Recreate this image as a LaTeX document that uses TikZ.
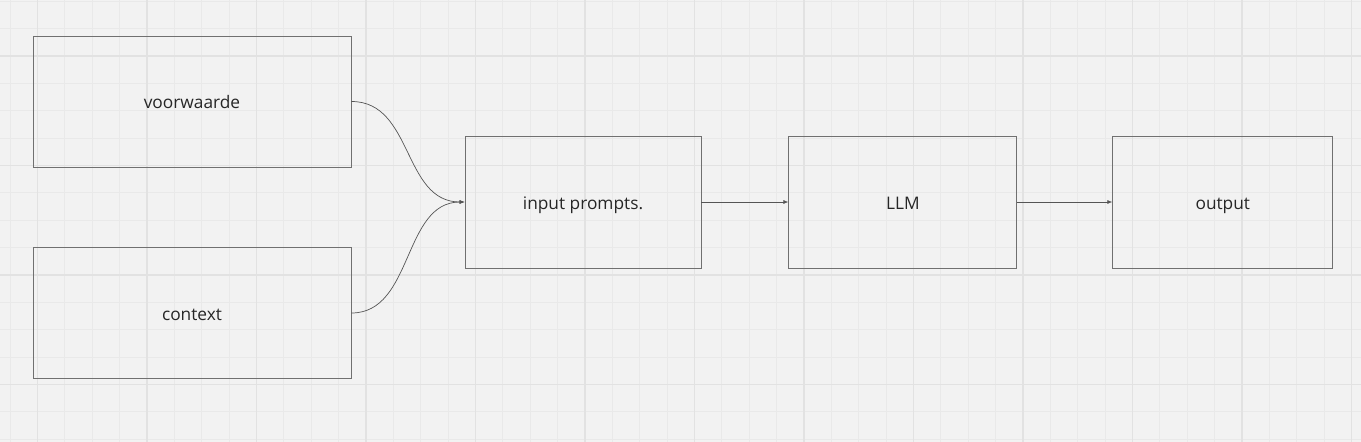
\documentclass[tikz,border=0pt]{standalone}
\usepackage{fontspec}
\setmainfont{Open Sans}
\usetikzlibrary{arrows.meta,positioning}
\definecolor{canvas}{HTML}{F2F2F2}
\definecolor{gridminor}{HTML}{E9E9E9}
\definecolor{gridmajor}{HTML}{E2E2E2}
\definecolor{boxline}{HTML}{707070}
\definecolor{arrline}{HTML}{555555}

\begin{document}
\begin{tikzpicture}[x=1pt, y=-1pt, box/.style={draw=boxline, line width=0.9pt, align=center, minimum height=132pt, inner sep=0pt, text height=16pt, text depth=2pt, font=\fontsize{17.3}{20}\selectfont, text=black!85}, arr/.style={-{Latex[length=5pt,width=4pt]}, draw=arrline, line width=0.7pt}]
\useasboundingbox (0,0) rectangle (1361,442);
\fill[canvas] (0,0) rectangle (1361,442);
% grid
\foreach \i in {0,...,49} \draw[gridminor, line width=0.9pt] (10.1+27.375*\i,0) -- (10.1+27.375*\i,442);
\foreach \i in {0,...,16} \draw[gridminor, line width=0.9pt] (0,1.25+27.375*\i) -- (1361,1.25+27.375*\i);
\foreach \i in {0,...,12} \draw[gridmajor, line width=1.5pt] (37.5+109.5*\i,0) -- (37.5+109.5*\i,442);
\foreach \i in {0,...,3} \draw[gridmajor, line width=1.5pt] (0,56+109.5*\i) -- (1361,56+109.5*\i);

\node[box, minimum width=318pt, minimum height=131pt] (voorwaarde) at (192,101.5) {voorwaarde};
\node[box, minimum width=318pt, minimum height=131pt] (context) at (192,313) {context};
\node[box, minimum width=236pt] (prompts) at (583,202) {input prompts.};
\node[box, minimum width=228pt, right=87pt of prompts] (llm) {LLM};
\node[box, minimum width=220pt, right=95pt of llm] (output) {output};

\draw[arr] (voorwaarde.east) .. controls +(62,0) and +(-62,0) .. (prompts.west);
\draw[arr] (context.east) .. controls +(62,0) and +(-62,0) .. (prompts.west);
\draw[arr] (prompts)--(llm);
\draw[arr] (llm)--(output);
\end{tikzpicture}
\end{document}
